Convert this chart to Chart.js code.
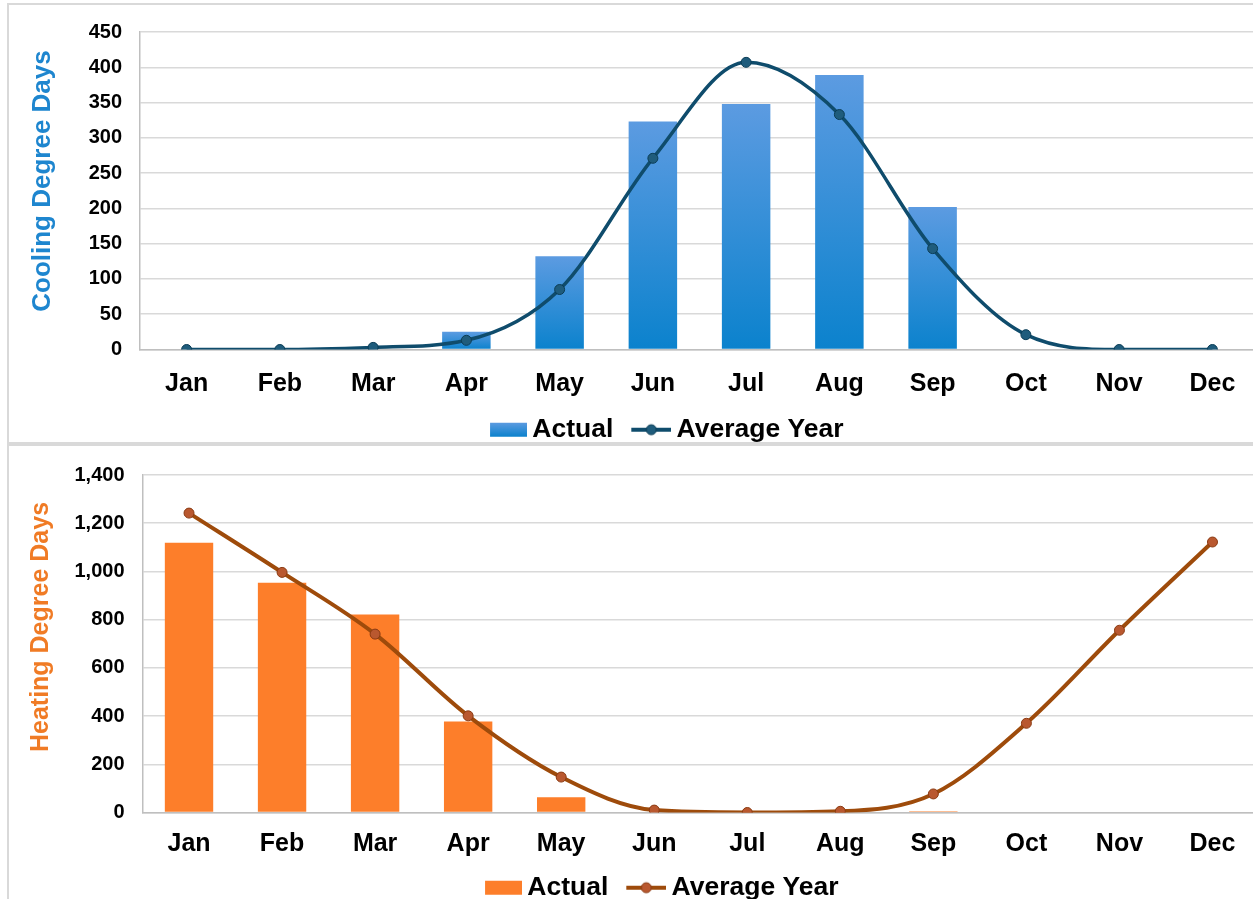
<!DOCTYPE html>
<html><head><meta charset="utf-8">
<script src="https://cdn.jsdelivr.net/npm/chart.js@4.4.1/dist/chart.umd.min.js"></script>
<style>
html,body{margin:0;padding:0;background:#fff;overflow:hidden;width:1253px;height:899px;}
.panel{position:absolute;border:2px solid #D9D9D9;box-sizing:border-box;}
canvas{position:absolute;left:0;}
.ytitle{position:absolute;font-family:"Liberation Sans",Arial,sans-serif;font-weight:bold;white-space:nowrap;transform:translate(-50%,-50%) rotate(-90deg);}
</style></head><body>
<div class="panel" style="left:7px;top:3px;width:1260px;height:441px"></div>
<div class="panel" style="left:7px;top:444px;width:1260px;height:480px"></div>
<canvas id="cool" width="1265" height="453" style="top:0;width:1265px;height:453px"></canvas>
<canvas id="heat" width="1265" height="466" style="top:445px;width:1265px;height:466px"></canvas>
<div class="ytitle" style="left:41px;top:181px;font-size:26px;color:#1E86CF">Cooling Degree Days</div>
<div class="ytitle" style="left:39px;top:627px;font-size:25px;color:#F07B25">Heating Degree Days</div>
<script>
// ---- data ----
const months = ['Jan','Feb','Mar','Apr','May','Jun','Jul','Aug','Sep','Oct','Nov','Dec'];
const coolingActual  = [0, 0, 0, 25, 132, 323, 348, 389, 202, 0, 0, 0];
const coolingAverage = [0, 0, 3, 13, 85, 271, 407, 333, 143, 21, 0, 0];
const heatingActual  = [1119, 953, 821, 377, 63, 0, 0, 0, 5, null, null, null];
const heatingAverage = [1242, 996, 740, 401, 147, 10, 0, 5, 77, 370, 756, 1122];
const coolingTicks = {max: 450, step: 50};
const heatingTicks = {max: 1400, step: 200};
const seriesNames = ['Actual', 'Average Year'];

const FONT = '"Liberation Sans", Arial, sans-serif';
Chart.defaults.font.family = FONT;
Chart.defaults.color = '#000';

function legendImage(kind, c1, c2, ptFill, ptBorder) {
  const cv = document.createElement('canvas');
  cv.width = 56; cv.height = 20;
  const x = cv.getContext('2d');
  if (kind === 'bar') {
    if (c2) {
      const g = x.createLinearGradient(0, 3, 0, 17);
      g.addColorStop(0, c1); g.addColorStop(1, c2);
      x.fillStyle = g;
    } else x.fillStyle = c1;
    x.fillRect(19, 3, 37, 14);
  } else {
    x.strokeStyle = c1; x.lineWidth = 4;
    x.beginPath(); x.moveTo(16, 10); x.lineTo(56, 10); x.stroke();
    x.fillStyle = ptFill; x.strokeStyle = ptBorder; x.lineWidth = 1;
    x.beginPath(); x.arc(36, 10, 5, 0, Math.PI * 2); x.fill(); x.stroke();
  }
  return cv;
}

function gradBar(top, bottom, fallback) {
  return function (c) {
    const chart = c.chart;
    if (!chart.chartArea || c.type !== 'data') return fallback;
    const ys = chart.scales.y;
    const v = c.raw || 0;
    const py = ys.getPixelForValue(v), pb = ys.getPixelForValue(0);
    if (!(pb - py > 0.5)) return bottom;
    const g = chart.ctx.createLinearGradient(0, py, 0, pb);
    g.addColorStop(0, top); g.addColorStop(1, bottom);
    return g;
  };
}

function makeChart(id, cfg) {
  const imgs = cfg.legendImgs;
  return new Chart(document.getElementById(id), {
    data: {
      labels: months,
      datasets: [
        { type: 'bar', label: seriesNames[0], data: cfg.actual, backgroundColor: cfg.barColor,
          borderWidth: 0, barPercentage: 0.52, categoryPercentage: 1, order: 2 },
        { type: 'line', label: seriesNames[1], data: cfg.average, borderColor: cfg.lineColor,
          borderWidth: cfg.lineWidth, cubicInterpolationMode: 'monotone', fill: false,
          pointRadius: 5, pointBackgroundColor: cfg.ptFill, pointBorderColor: cfg.ptBorder,
          pointBorderWidth: 1, order: 1 }
      ]
    },
    options: {
      responsive: false, animation: false, devicePixelRatio: 1,
      layout: { padding: { left: cfg.padL, right: 0, top: cfg.padTop, bottom: 0 } },
      scales: {
        x: {
          grid: { display: false, drawTicks: false },
          border: { display: true, color: '#BFBFBF', width: 1.5 },
          ticks: { padding: 17, font: { size: 25, weight: 'bold', lineHeight: cfg.xLH }, color: '#000', maxRotation: 0 },
          afterFit: s => { s.height = cfg.xH; }
        },
        y: {
          min: 0, max: cfg.ticks.max,
          grid: { color: '#D9D9D9', lineWidth: 1.5, drawTicks: false },
          border: { display: true, color: '#BFBFBF', width: 1.5 },
          ticks: { stepSize: cfg.ticks.step, padding: 18, font: { size: 20, weight: 'bold' }, color: '#000',
                   callback: v => Number(v).toLocaleString('en-US') },
          afterFit: s => { s.width = cfg.yW; }
        }
      },
      plugins: {
        tooltip: { enabled: false },
        legend: {
          position: 'bottom',
          labels: {
            usePointStyle: true, pointStyleWidth: 40, boxHeight: 14, padding: 10,
            font: { size: 26.5, weight: 'bold' }, color: '#000',
            sort: (a, b) => a.datasetIndex - b.datasetIndex,
            generateLabels: chart => {
              const items = Chart.defaults.plugins.legend.labels.generateLabels(chart);
              items.forEach(it => { it.pointStyle = imgs[it.datasetIndex]; });
              return items;
            }
          }
        }
      }
    }
  });
}

makeChart('cool', {
  actual: coolingActual, average: coolingAverage, ticks: coolingTicks,
  barColor: gradBar('#5C9BE1', '#0B82CD', '#3A8DD8'),
  lineColor: '#0F4C6C', lineWidth: 3.5, ptFill: '#1F5C7C', ptBorder: '#0B3D56',
  padL: 57.5, yW: 82.5, padTop: 32, xH: 57, xLH: 1.4,
  legendImgs: [legendImage('bar', '#5C9BE1', '#0B82CD'), legendImage('line', '#0F4C6C', null, '#1F5C7C', '#0B3D56')]
});

makeChart('heat', {
  actual: heatingActual, average: heatingAverage, ticks: heatingTicks,
  barColor: '#FD7E2A',
  lineColor: '#9E4B0B', lineWidth: 4, ptFill: '#B9582F', ptBorder: '#8A3A12',
  padL: 47.5, yW: 95, padTop: 26, xH: 52, xLH: 1.2,
  legendImgs: [legendImage('bar', '#FD7E2A', null), legendImage('line', '#9E4B0B', null, '#B9582F', '#8A3A12')]
});
</script>
</body></html>
